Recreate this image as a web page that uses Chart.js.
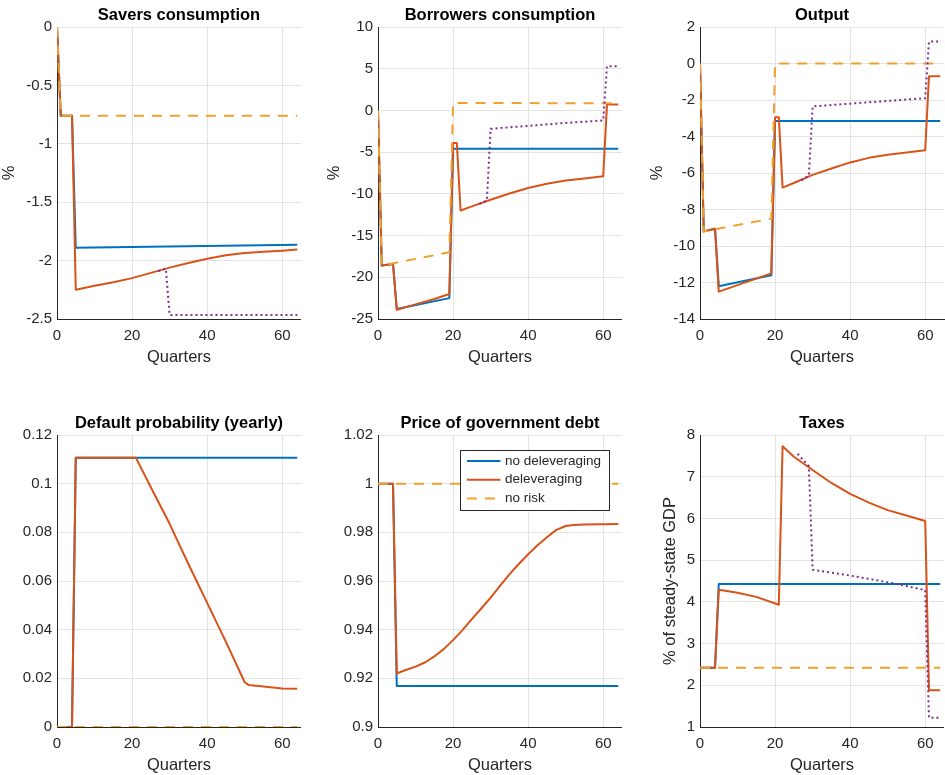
<!DOCTYPE html>
<html>
<head>
<meta charset="utf-8">
<script src="https://cdn.jsdelivr.net/npm/chart.js@4.4.1/dist/chart.umd.min.js"></script>
<style>
  html, body { margin: 0; padding: 0; background: #fff; overflow: hidden; width: 945px; height: 775px; }
  .panel { position: absolute; height: 375px; }
</style>
</head>
<body>
<div class="panel" style="left:0px;top:0px;width:301px"><canvas id="savers"></canvas></div>
<div class="panel" style="left:325px;top:0px;width:297px"><canvas id="borrowers"></canvas></div>
<div class="panel" style="left:648px;top:0px;width:297px"><canvas id="output"></canvas></div>
<div class="panel" style="left:0px;top:408px;width:301px"><canvas id="defprob"></canvas></div>
<div class="panel" style="left:325px;top:408px;width:297px"><canvas id="price"></canvas></div>
<div class="panel" style="left:661px;top:408px;width:283px"><canvas id="taxes"></canvas></div>

<script>
// [quarter, value]
const savNoDelev = [[0,0],[1,-0.76],[4,-0.76],[5,-1.89],[64,-1.865]];
const savDelev = [[0,0],[1,-0.76],[4,-0.76],[5,-2.25],[10,-2.215],[15,-2.185],[20,-2.15],[25,-2.105],[30,-2.06],[35,-2.02],[40,-1.985],[45,-1.955],[50,-1.935],[55,-1.925],[60,-1.915],[64,-1.905]];
const savNoRisk = [[0,0],[1,-0.76],[64,-0.76]];
const savAlt = [[27,-2.09],[29,-2.07],[30,-2.465],[64,-2.465]];

const borNoDelev = [[0,0],[1,-18.6],[4,-18.4],[5,-23.8],[19,-22.5],[20,-4.6],[64,-4.6]];
const borDelev = [[0,0],[1,-18.6],[4,-18.4],[5,-23.9],[10,-23.25],[15,-22.6],[19,-22.0],[20,-3.9],[21,-3.9],[22,-12.0],[25,-11.5],[30,-10.7],[35,-9.95],[40,-9.3],[45,-8.8],[50,-8.4],[55,-8.15],[60,-7.9],[61,0.7],[64,0.7]];
const borNoRisk = [[0,0],[1,-18.6],[19,-17.0],[20,0.9],[64,0.85]];
const borAlt = [[27,-11.2],[29,-10.8],[30,-2.2],[40,-1.85],[50,-1.5],[60,-1.2],[61,5.3],[64,5.3]];

const outNoDelev = [[0,0],[1,-9.2],[4,-9.05],[5,-12.2],[19,-11.6],[20,-3.15],[64,-3.15]];
const outDelev = [[0,0],[1,-9.2],[4,-9.05],[5,-12.5],[19,-11.5],[20,-2.95],[21,-2.95],[22,-6.8],[25,-6.55],[30,-6.1],[35,-5.75],[40,-5.42],[45,-5.17],[50,-5.0],[55,-4.88],[60,-4.75],[61,-0.7],[64,-0.7]];
const outNoRisk = [[0,0],[1,-9.2],[19,-8.5],[20,0],[64,0]];
const outAlt = [[27,-6.4],[29,-6.15],[30,-2.35],[40,-2.2],[50,-2.05],[60,-1.9],[61,1.2],[64,1.2]];

const defNoDelev = [[0,0],[4,0],[5,0.1107],[64,0.1107]];
const defDelev = [[0,0],[4,0],[5,0.1107],[21,0.1107],[25,0.0985],[30,0.0835],[35,0.067],[40,0.051],[45,0.035],[50,0.0184],[51,0.0173],[55,0.0166],[60,0.0158],[64,0.0157]];
const defNoRisk = [[0,0],[64,0]];

const priNoDelev = [[0,1],[4,1],[5,0.9168],[64,0.9168]];
const priDelev = [[0,1],[4,1],[5,0.922],[7,0.9232],[10,0.9248],[12.5,0.9265],[15,0.929],[17.5,0.932],[20,0.9357],[22.5,0.9398],[25,0.9443],[27.5,0.9487],[30,0.9532],[32.5,0.958],[35,0.9627],[37.5,0.967],[40,0.971],[42.5,0.9747],[45,0.978],[47.5,0.981],[50,0.9826],[52,0.983],[55,0.9832],[64,0.9834]];
const priNoRisk = [[0,1],[64,1]];

const taxNoDelev = [[0,2.42],[4,2.42],[5,4.43],[64,4.43]];
const taxDelev = [[0,2.42],[4,2.42],[5,4.29],[10,4.22],[15,4.12],[21,3.93],[22,7.73],[25,7.48],[30,7.16],[35,6.85],[40,6.59],[45,6.38],[50,6.2],[55,6.07],[60,5.94],[61,1.88],[64,1.88]];
const taxNoRisk = [[0,2.42],[64,2.42]];
const taxAlt = [[26,7.55],[29,7.25],[30,4.77],[40,4.63],[50,4.47],[55,4.38],[60,4.28],[61,1.22],[64,1.22]];

const FONT = '"Liberation Sans", Arial, Helvetica, sans-serif';
const INK = '#262626';
const GRID = '#e3e3e3';

// lower order is drawn on top
const styles = {
  noDelev: { label: 'no deleveraging', borderColor: '#0072BD', order: 3 },
  delev:   { label: 'deleveraging',    borderColor: '#D95319', order: 2 },
  noRisk:  { label: 'no risk',         borderColor: '#EFA12F', borderDash: [10, 8], order: 1 },
  alt:     { label: '',                borderColor: '#7E2F8E', borderDash: [2, 3], order: 0 }
};

// MATLAB-style legend box inside the axes (top right)
const boxLegend = {
  id: 'boxLegend',
  afterDraw(chart) {
    const ctx = chart.ctx, area = chart.chartArea;
    const items = chart.data.datasets.filter(d => d.label);
    ctx.save();
    ctx.font = '13.5px ' + FONT;
    const textW = Math.max(...items.map(d => ctx.measureText(d.label).width));
    const rowH = 18.7, padX = 6.5, sample = 33.5, gap = 4.5;
    const w = padX + sample + gap + textW + 8, h = items.length * rowH + 4;
    const x = area.right - 13 - w, y = area.top + 15;
    ctx.fillStyle = '#fff';
    ctx.fillRect(x, y, w, h);
    ctx.strokeStyle = INK;
    ctx.lineWidth = 1;
    ctx.strokeRect(Math.round(x) + 0.5, Math.round(y) + 0.5, Math.round(w), Math.round(h));
    items.forEach((d, i) => {
      const cy = y + 11 + i * rowH;
      ctx.beginPath();
      ctx.setLineDash(d.borderDash || []);
      ctx.strokeStyle = d.borderColor;
      ctx.lineWidth = 2;
      ctx.moveTo(x + padX, cy);
      ctx.lineTo(x + padX + sample, cy);
      ctx.stroke();
      ctx.setLineDash([]);
      ctx.fillStyle = INK;
      ctx.textBaseline = 'middle';
      ctx.textAlign = 'left';
      ctx.fillText(d.label, x + padX + sample + gap, cy);
    });
    ctx.restore();
  }
};

function panel(id, cfg) {
  const datasets = cfg.series.map(([key, pts]) => Object.assign({
    data: pts.map(([x, y]) => ({ x, y })),
    borderWidth: 2,
    borderJoinStyle: 'round',
    pointRadius: 0,
    tension: 0,
    fill: false
  }, styles[key]));

  return new Chart(document.getElementById(id), {
    type: 'line',
    data: { datasets },
    options: {
      responsive: true,
      maintainAspectRatio: false,
      animation: false,
      layout: { padding: { top: 0, right: cfg.padRight || 0, bottom: 0, left: 0 } },
      plugins: {
        legend: { display: false },
        tooltip: { enabled: false },
        title: {
          display: true, text: cfg.title, fullSize: false, color: '#000',
          font: { family: FONT, size: 16.5, weight: 'bold', lineHeight: 1.2 },
          padding: { top: 5.5, bottom: 1.7 }
        }
      },
      scales: {
        x: {
          type: 'linear', min: 0, max: 65,
          ticks: { stepSize: 20, includeBounds: false, color: INK, font: { family: FONT, size: 15 }, padding: 8, maxRotation: 0 },
          grid: { color: GRID, drawTicks: false },
          border: { color: INK },
          title: { display: true, text: 'Quarters', color: INK, font: { family: FONT, size: 16.5, lineHeight: 1.2 }, padding: { top: 0, bottom: 7.5 } },
          afterFit: s => { s.height = 56; }
        },
        y: {
          type: 'linear', min: cfg.min, max: cfg.max,
          ticks: {
            stepSize: cfg.step, color: INK, font: { family: FONT, size: 15 }, padding: 5,
            callback: v => String(Math.round(v * 1e6) / 1e6)
          },
          grid: { color: GRID, drawTicks: false },
          border: { color: INK },
          title: { display: !!cfg.ylabel, text: cfg.ylabel || '', color: INK, font: { family: FONT, size: 16.5, lineHeight: 1.2 }, padding: { top: 0, bottom: 0 } },
          afterFit: s => { s.width = cfg.yWidth; }
        }
      }
    },
    plugins: cfg.plugins || []
  });
}

panel('savers', {
  title: 'Savers consumption', ylabel: '%', yWidth: 57, min: -2.5, max: 0, step: 0.5,
  series: [['noDelev', savNoDelev], ['delev', savDelev], ['noRisk', savNoRisk], ['alt', savAlt]]
});
panel('borrowers', {
  title: 'Borrowers consumption', ylabel: '%', yWidth: 53, min: -25, max: 10, step: 5,
  series: [['noDelev', borNoDelev], ['delev', borDelev], ['noRisk', borNoRisk], ['alt', borAlt]]
});
panel('output', {
  title: 'Output', ylabel: '%', yWidth: 52, padRight: 1, min: -14, max: 2, step: 2,
  series: [['noDelev', outNoDelev], ['delev', outDelev], ['noRisk', outNoRisk], ['alt', outAlt]]
});
panel('defprob', {
  title: 'Default probability (yearly)', yWidth: 57, min: 0, max: 0.12, step: 0.02,
  series: [['noDelev', defNoDelev], ['delev', defDelev], ['noRisk', defNoRisk]]
});
panel('price', {
  title: 'Price of government debt', yWidth: 53, min: 0.9, max: 1.02, step: 0.02,
  series: [['noDelev', priNoDelev], ['delev', priDelev], ['noRisk', priNoRisk]],
  plugins: [boxLegend]
});
panel('taxes', {
  title: 'Taxes', ylabel: '% of steady-state GDP', yWidth: 39, min: 1, max: 8, step: 1,
  series: [['noDelev', taxNoDelev], ['delev', taxDelev], ['noRisk', taxNoRisk], ['alt', taxAlt]]
});
</script>
</body>
</html>
